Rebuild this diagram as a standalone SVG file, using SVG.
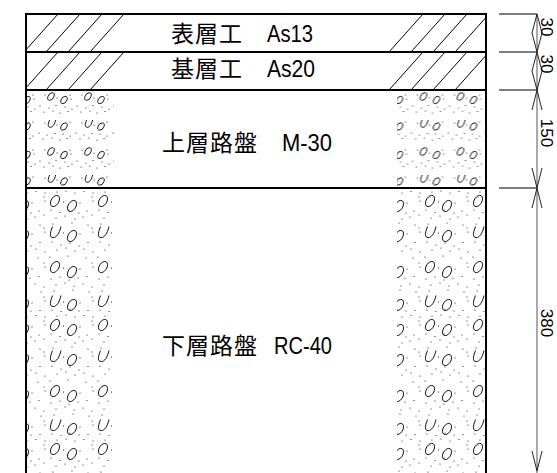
<svg xmlns="http://www.w3.org/2000/svg" width="557" height="473" viewBox="0 0 557 473">
<style>
.frame{stroke:#000;stroke-width:2;fill:none}
.hatch{stroke:#000;stroke-width:1;fill:none}
.gl{stroke:#000;stroke-width:0.85;fill:none}
.dots{stroke:#000;stroke-width:1.1;stroke-linecap:round;fill:none}
.ext{stroke:#000;stroke-width:1.2;fill:none}
.dim{stroke:#555;stroke-width:1;fill:none}
.arr{stroke:#222;stroke-width:1;fill:none}
.jp{font-family:"Noto Sans CJK JP","Noto Sans CJK SC",sans-serif;font-size:23px;letter-spacing:1px;fill:#000}
.la{font-family:"Liberation Sans",sans-serif;font-size:24px;fill:#000}
.dt{font-family:"Liberation Sans",sans-serif;font-size:17px;fill:#000;text-anchor:middle}
</style>
<defs>
<g id="tU">
<g class="gl">
<ellipse rx="3" ry="3.8" transform="translate(14,6.5) skewX(-18)"/>
<ellipse rx="3" ry="3.6" transform="translate(27,10) skewX(-18)"/>
<path d="M-3,-3.5 C-3.6,1 -2.5,3.8 0,3.8 C2.5,3.8 3.4,1 3,-3.5" transform="translate(14.5,33.5) skewX(-18)"/>
<ellipse rx="3" ry="3.6" transform="translate(27,36.5) skewX(-18)"/>
</g>
<path class="dots" d="M8 5h.01M20 8h.01M33 5h.01M34 9h.01M3 16h.01M12 18h.01M19 15.5h.01M28 17h.01M35 19h.01M7 22h.01M16 21h.01M23 23h.01M31 21.5h.01M8 33h.01M20 35h.01M33 32h.01M2 43h.01M10 45h.01M18 43.5h.01M26 44h.01M33 46h.01M6 49h.01M15 48h.01M23 50h.01M30 48.5h.01"/>
</g>
<g id="tL">
<g class="gl">
<ellipse rx="4.2" ry="5.6" transform="translate(7,13) skewX(-18)"/>
<ellipse rx="4.2" ry="5.6" transform="translate(24,18) skewX(-18)"/>
<path d="M-4.2,-5.5 C-5,1.5 -3.5,5.6 0,5.6 C3.5,5.6 4.8,1.5 4.2,-5.5" transform="translate(7,44) skewX(-18)"/>
<ellipse rx="4.2" ry="5.6" transform="translate(24,48) skewX(-18)"/>
<ellipse rx="4.2" ry="5.6" transform="translate(7,79) skewX(-18)"/>
<ellipse rx="4.2" ry="5.6" transform="translate(24,84) skewX(-18)"/>
<path d="M-4.2,-5.5 C-5,1.5 -3.5,5.6 0,5.6 C3.5,5.6 4.8,1.5 4.2,-5.5" transform="translate(7,113) skewX(-18)"/>
<ellipse rx="4.2" ry="5.6" transform="translate(24,117) skewX(-18)"/>
</g>
<path class="dots" d="M15.5 14h.01M32 15h.01M45 13h.01M44 9h.01M3 22h.01M12 24.5h.01M21 22h.01M31 25h.01M39 23h.01M8 30h.01M17 28h.01M27 31h.01M35 29h.01M44 27h.01M5 36h.01M24 35h.01M40 37h.01M15.5 45h.01M32 46h.01M45 44h.01M44 40h.01M4 54h.01M13 57h.01M22 55h.01M31 58h.01M40 54.5h.01M9 62h.01M18 60h.01M27 63h.01M36 61h.01M45 64h.01M2 69h.01M20 68h.01M38 70h.01M15.5 80h.01M32 81h.01M45 79h.01M44 75h.01M3 91h.01M12 89h.01M21 92h.01M30 90h.01M39 88.5h.01M8 97h.01M17 95h.01M26 98h.01M35 96h.01M44 99h.01M6 103h.01M25 102h.01M41 104h.01M15.5 114h.01M32 115h.01M45 113h.01M44 109h.01M4 122h.01M13 123.5h.01M22 121h.01M31 123h.01M40 122.5h.01M9 4h.01M18 3h.01M27 5h.01M36 3.5h.01M45 5h.01"/>
</g>
<pattern id="pUL" patternUnits="userSpaceOnUse" x="0" y="90" width="37" height="55"><use href="#tU"/></pattern>
<pattern id="pUR" patternUnits="userSpaceOnUse" x="39.5" y="90" width="37" height="55"><use href="#tU"/></pattern>
<pattern id="pLL" patternUnits="userSpaceOnUse" x="0" y="188" width="48" height="124"><use href="#tL"/></pattern>
<pattern id="pLR" patternUnits="userSpaceOnUse" x="39" y="188" width="48" height="124"><use href="#tL"/></pattern>
</defs>

<rect width="557" height="473" fill="#fff"/>

<g id="surface-layer">
<path class="hatch" d="M26 49.8L58 14M46 52L80 14M68 52L102 14M90 52L124 14M389 52L423 14M411 52L445 14M433 52L467 14M455 52L486 17.4"/>
<text class="jp" x="171" y="42">表層工</text>
<text class="la" x="267" y="42" textLength="46" lengthAdjust="spacingAndGlyphs">As13</text>
</g>

<g id="binder-layer">
<path class="hatch" d="M26 87.8L58 52M46 90L80 52M68 90L102 52M90 90L124 52M389 90L423 52M411 90L445 52M433 90L467 52M455 90L486 55.4"/>
<text class="jp" x="171" y="77">基層工</text>
<text class="la" x="267" y="77" textLength="48" lengthAdjust="spacingAndGlyphs">As20</text>
</g>

<g id="upper-base">
<rect x="26" y="90" width="88" height="98" fill="url(#pUL)"/>
<rect x="397" y="90" width="89" height="98" fill="url(#pUR)"/>
<text class="jp" x="162" y="151">上層路盤</text>
<text class="la" x="282" y="151" textLength="50" lengthAdjust="spacingAndGlyphs">M-30</text>
</g>

<g id="lower-base">
<rect x="26" y="188" width="86" height="285" fill="url(#pLL)"/>
<rect x="397" y="188" width="89" height="285" fill="url(#pLR)"/>
<text class="jp" x="162" y="354">下層路盤</text>
<text class="la" x="274" y="354" textLength="58" lengthAdjust="spacingAndGlyphs">RC-40</text>
</g>

<g id="frame">
<path class="frame" d="M25 14H487M26 52H486M26 90H486M26 188H486M26 13V473M486 13V473"/>
</g>

<g id="connectors">
<path class="ext" d="M499 14H537M499 52H537M499 90H537M499 188H537"/>
<path class="dim" d="M537 14V473"/>
<path class="arr" d="M532 33L537 14L542 33M532 33L537 52L542 33M532 71L537 52L542 71M532 71L537 90L542 71M532 110L537 90L542 110M532 168L537 188L542 168M532 208L537 188L542 208M532 451L537 471L542 451"/>
</g>

<g id="dimension-labels">
<text class="dt" transform="translate(541,27) rotate(90)">30</text>
<text class="dt" transform="translate(541,64) rotate(90)">30</text>
<text class="dt" transform="translate(541,133) rotate(90)">150</text>
<text class="dt" transform="translate(541,323) rotate(90)">380</text>
</g>
</svg>
